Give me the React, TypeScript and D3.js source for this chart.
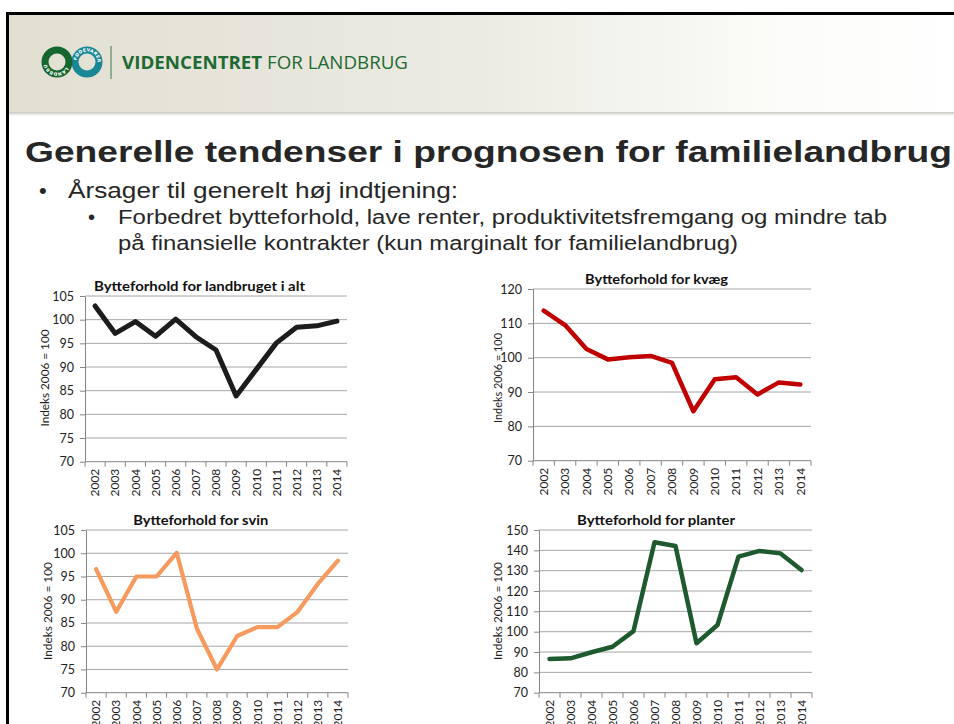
import React, { useEffect, useRef } from "react"
import * as d3 from "d3"

const years = ["2002", "2003", "2004", "2005", "2006", "2007", "2008", "2009", "2010", "2011", "2012", "2013", "2014"]

const landbrug = [102.9, 97.1, 99.6, 96.5, 100.1, 96.4, 93.6, 83.9, 89.5, 95.1, 98.4, 98.7, 99.7]
const kvaeg = [113.7, 109.5, 102.5, 99.5, 100.1, 100.5, 98.5, 84.4, 93.7, 94.3, 89.3, 92.8, 92.2]
const svin = [96.6, 87.4, 95, 95, 100.1, 83.8, 75, 82.2, 84.1, 84.1, 87.4, 93.4, 98.4]
const planter = [86.6, 86.9, 89.9, 92.6, 100.3, 144, 142.1, 94.3, 103.3, 136.9, 139.7, 138.5, 130.3]

const titles = ["Bytteforhold for landbruget i alt", "Bytteforhold for kvæg", "Bytteforhold for svin", "Bytteforhold for planter"]
const yLabel = "Indeks 2006 = 100"
const ticksA = [70, 75, 80, 85, 90, 95, 100, 105]
const ticksB = [70, 80, 90, 100, 110, 120]
const ticksC = [70, 80, 90, 100, 110, 120, 130, 140, 150]

const slideTitle = "Generelle tendenser i prognosen for familielandbrug"
const bullet1 = "Årsager til generelt høj indtjening:"
const bullet2a = "Forbedret bytteforhold, lave renter, produktivitetsfremgang og mindre tab"
const bullet2b = "på finansielle kontrakter (kun marginalt for familielandbrug)"

interface ChartSpec {
  title: string
  values: number[]
  ticks: number[]
  color: string
  width: number
  left: number
  right: number
  top: number
  bottom: number
  titleX: number
  titleY: number
  titleW: number
  labX: number
  labY: number
  labW: number
}

const charts: ChartSpec[] = [
  { title: titles[0], values: landbrug, ticks: ticksA, color: "#1c1c1c", width: 5, left: 85, right: 347, top: 296, bottom: 461.7, titleX: 199.5, titleY: 290.7, titleW: 211, labX: 45, labY: 378, labW: 97 },
  { title: titles[1], values: kvaeg, ticks: ticksB, color: "#c00000", width: 4.5, left: 533, right: 811, top: 289, bottom: 460.7, titleX: 656.5, titleY: 284, titleW: 143, labX: 498, labY: 378, labW: 90 },
  { title: titles[2], values: svin, ticks: ticksA, color: "#f79a5e", width: 4.2, left: 86, right: 348, top: 530, bottom: 692.7, titleX: 200.7, titleY: 525, titleW: 135, labX: 48, labY: 611, labW: 98 },
  { title: titles[3], values: planter, ticks: ticksC, color: "#1e5a2e", width: 4.5, left: 539, right: 812, top: 530, bottom: 692.7, titleX: 656, titleY: 525, titleW: 158, labX: 498, labY: 611, labW: 98 },
]

const chartFont = "Lato, 'Open Sans', sans-serif"

function drawChart(svg: d3.Selection<SVGSVGElement, unknown, null, undefined>, c: ChartSpec) {
  const g = svg.append("g")
  const x = d3.scaleBand().domain(years).range([c.left, c.right])
  const y = d3
    .scaleLinear()
    .domain([c.ticks[0], c.ticks[c.ticks.length - 1]])
    .range([c.bottom, c.top])

  // gridlines
  g.append("g")
    .selectAll("line")
    .data(c.ticks.slice(1))
    .join("line")
    .attr("x1", c.left)
    .attr("x2", c.right)
    .attr("y1", (d) => y(d))
    .attr("y2", (d) => y(d))
    .attr("stroke", "#a6a6a6")
    .attr("stroke-width", 1)

  // y axis
  const ya = g
    .append("g")
    .attr("transform", `translate(${c.left},0)`)
    .call(d3.axisLeft(y).tickValues(c.ticks).tickSize(5).tickPadding(6).tickSizeOuter(0))
  ya.select(".domain").attr("stroke", "#868686")
  ya.selectAll(".tick line").attr("stroke", "#868686")
  ya.selectAll(".tick text").attr("font-family", chartFont).attr("font-size", 12.5).attr("fill", "#222")

  // x axis, ticks sit between categories
  g.append("line")
    .attr("x1", c.left)
    .attr("x2", c.right)
    .attr("y1", c.bottom)
    .attr("y2", c.bottom)
    .attr("stroke", "#868686")
  g.append("g")
    .selectAll("line")
    .data([...years.map((d) => x(d)!), c.right])
    .join("line")
    .attr("x1", (d) => d)
    .attr("x2", (d) => d)
    .attr("y1", c.bottom)
    .attr("y2", c.bottom + 5)
    .attr("stroke", "#868686")
  g.append("g")
    .selectAll("text")
    .data(years)
    .join("text")
    .attr("transform", (d) => `translate(${x(d)! + x.bandwidth() / 2},${c.bottom + 7}) rotate(-90)`)
    .attr("text-anchor", "end")
    .attr("dy", "0.35em")
    .attr("font-family", chartFont)
    .attr("font-size", 12)
    .attr("fill", "#222")
    .text((d) => d)

  // title
  g.append("text")
    .attr("x", c.titleX)
    .attr("y", c.titleY)
    .attr("text-anchor", "middle")
    .attr("font-family", chartFont)
    .attr("font-weight", "bold")
    .attr("font-size", 13)
    .attr("textLength", c.titleW)
    .attr("lengthAdjust", "spacingAndGlyphs")
    .attr("fill", "#111")
    .text(c.title)

  // y label
  g.append("text")
    .attr("transform", `translate(${c.labX},${c.labY}) rotate(-90)`)
    .attr("text-anchor", "middle")
    .attr("dy", "0.35em")
    .attr("font-family", chartFont)
    .attr("font-size", 12)
    .attr("textLength", c.labW)
    .attr("lengthAdjust", "spacingAndGlyphs")
    .attr("fill", "#222")
    .text(yLabel)

  // series line
  const line = d3
    .line<number>()
    .x((_, i) => x(years[i])! + x.bandwidth() / 2)
    .y((d) => y(d))
  g.append("path")
    .datum(c.values)
    .attr("d", line)
    .attr("fill", "none")
    .attr("stroke", c.color)
    .attr("stroke-width", c.width)
    .attr("stroke-linejoin", "round")
    .attr("stroke-linecap", "round")
}

const App = () => {
  const ref = useRef<SVGSVGElement | null>(null)

  useEffect(() => {
    const svg = d3.select(ref.current!)
    svg.selectAll("*").remove()

    const defs = svg.append("defs")
    const grad = defs.append("linearGradient").attr("id", "hdr").attr("x1", "0").attr("x2", "1").attr("y1", "0").attr("y2", "0")
    grad.append("stop").attr("offset", "0").attr("stop-color", "#e2dfd2")
    grad.append("stop").attr("offset", "0.5").attr("stop-color", "#ecebe3")
    grad.append("stop").attr("offset", "0.8").attr("stop-color", "#fbfbf8")
    grad.append("stop").attr("offset", "1").attr("stop-color", "#ffffff")
    const shadow = defs.append("linearGradient").attr("id", "shd").attr("x1", "0").attr("x2", "0").attr("y1", "0").attr("y2", "1")
    shadow.append("stop").attr("offset", "0").attr("stop-color", "#c8c6bd")
    shadow.append("stop").attr("offset", "1").attr("stop-color", "#ffffff")
    defs.append("path").attr("id", "ringL").attr("d", "M 47 62 A 10 10 0 1 1 67 62 A 10 10 0 1 1 47 62")
    defs.append("path").attr("id", "ringR").attr("d", "M 77 62 A 10 10 0 1 1 97 62 A 10 10 0 1 1 77 62")

    svg.append("rect").attr("width", 954).attr("height", 724).attr("fill", "#fff")

    // header band
    svg.append("rect").attr("x", 9).attr("y", 15).attr("width", 945).attr("height", 97).attr("fill", "url(#hdr)")
    svg.append("rect").attr("x", 9).attr("y", 112).attr("width", 945).attr("height", 4).attr("fill", "url(#shd)")

    // border
    svg.append("line").attr("x1", 6).attr("x2", 954).attr("y1", 13.5).attr("y2", 13.5).attr("stroke", "#000").attr("stroke-width", 3)
    svg.append("line").attr("x1", 7.5).attr("x2", 7.5).attr("y1", 12).attr("y2", 724).attr("stroke", "#000").attr("stroke-width", 3)

    // logo
    svg.append("circle").attr("cx", 87).attr("cy", 62).attr("r", 12).attr("fill", "none").attr("stroke", "#1a8797").attr("stroke-width", 7)
    svg.append("circle").attr("cx", 57).attr("cy", 62).attr("r", 12).attr("fill", "none").attr("stroke", "#15662f").attr("stroke-width", 7)
    const ringText = (id: string, label: string, offset: string) =>
      svg
        .append("text")
        .attr("font-family", "'DejaVu Sans', sans-serif")
        .attr("font-size", 4.5)
        .attr("font-weight", "bold")
        .attr("fill", "#fff")
        .attr("dy", "-0.6")
        .append("textPath")
        .attr("href", `#${id}`)
        .attr("startOffset", offset)
        .text(label)
    ringText("ringL", "LANDBRUG", "58%")
    ringText("ringR", "FØDEVARER", "2%")
    svg.append("line").attr("x1", 111).attr("x2", 111).attr("y1", 46).attr("y2", 79).attr("stroke", "#3c7a4a").attr("stroke-width", 1)
    const brand = svg
      .append("text")
      .attr("x", 122)
      .attr("y", 68.5)
      .attr("font-family", "'Open Sans', sans-serif")
      .attr("font-size", 18)
      .attr("fill", "#1d6a33")
      .attr("textLength", 286)
      .attr("lengthAdjust", "spacingAndGlyphs")
    brand.append("tspan").attr("font-weight", "bold").text("VIDENCENTRET ")
    brand.append("tspan").text("FOR LANDBRUG")

    // slide text
    const txt = (x: number, y: number, size: number, s: string, w: number | null, bold = false) => {
      const t = svg
        .append("text")
        .attr("x", x)
        .attr("y", y)
        .attr("font-family", "'Liberation Sans', Arial, sans-serif")
        .attr("font-size", size)
        .attr("font-weight", bold ? "bold" : "normal")
        .attr("fill", "#262626")
        .text(s)
      if (w) t.attr("textLength", w).attr("lengthAdjust", "spacingAndGlyphs")
    }
    txt(25, 162, 30, slideTitle, 927, true)
    txt(39, 197.5, 22, "•", null)
    txt(68, 197.5, 22, bullet1, 390)
    txt(88, 224, 20, "•", null)
    txt(118, 224, 20, bullet2a, 769)
    txt(118, 250, 20, bullet2b, 620)

    charts.forEach((c) => drawChart(svg, c))
  }, [])

  return <svg ref={ref} width={954} height={724} style={{ position: "absolute", left: 0, top: 0 }} />
}

export default App
